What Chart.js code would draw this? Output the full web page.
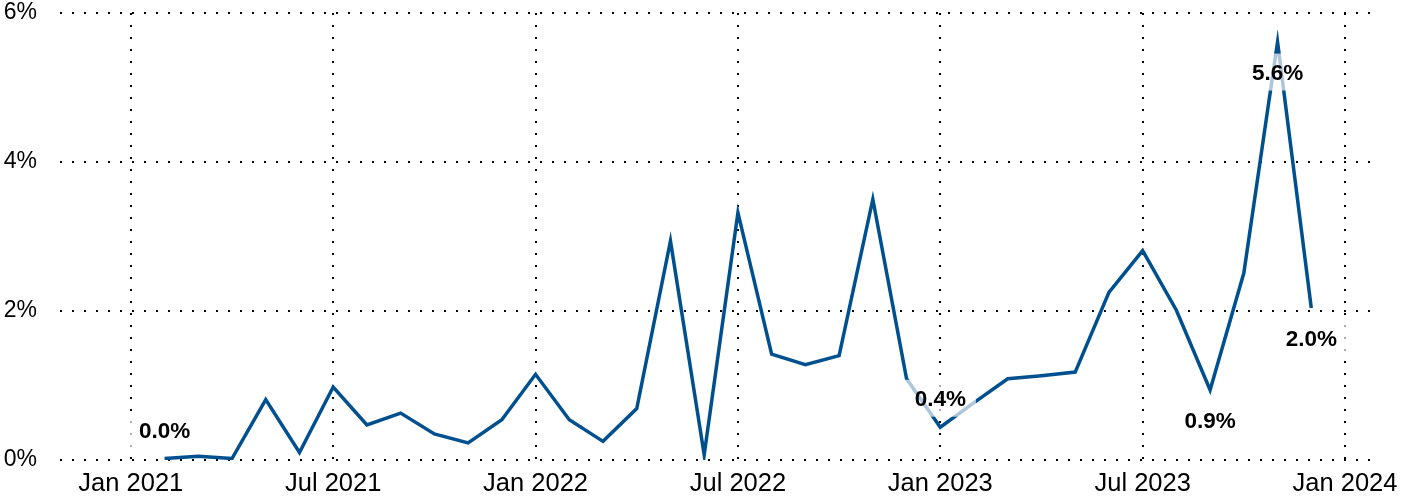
<!DOCTYPE html>
<html>
<head>
<meta charset="utf-8">
<script src="https://cdn.jsdelivr.net/npm/chart.js@4.4.1/dist/chart.umd.min.js"></script>
<style>
  html, body { margin: 0; padding: 0; background: #fff; }
  #wrap { width: 1401px; height: 500px; position: relative; }
</style>
</head>
<body>
<div id="wrap"><canvas id="c" width="1401" height="500"></canvas></div>
<script>
// ---- data ----
const categories = [
  'Feb 2021','Mar 2021','Apr 2021','May 2021','Jun 2021','Jul 2021','Aug 2021','Sep 2021','Oct 2021','Nov 2021','Dec 2021',
  'Jan 2022','Feb 2022','Mar 2022','Apr 2022','May 2022','Jun 2022','Jul 2022','Aug 2022','Sep 2022','Oct 2022','Nov 2022','Dec 2022',
  'Jan 2023','Feb 2023','Mar 2023','Apr 2023','May 2023','Jun 2023','Jul 2023','Aug 2023','Sep 2023','Oct 2023','Nov 2023','Dec 2023'
];
const values = [
  0.02, 0.05, 0.02, 0.81, 0.10, 0.98, 0.47, 0.63, 0.35, 0.23, 0.54,
  1.15, 0.54, 0.25, 0.69, 2.94, 0.07, 3.32, 1.42, 1.28, 1.40, 3.50, 1.09,
  0.44, 0.77, 1.09, 1.13, 1.18, 2.25, 2.81, 2.01, 0.94, 2.51, 5.61, 2.04
];
const xTickLabels = ['Jan 2021','Jul 2021','Jan 2022','Jul 2022','Jan 2023','Jul 2023','Jan 2024'];
const yTickValues = [0, 2, 4, 6];
const labelIndices = [0, 23, 31, 33, 34];
const labelSides = ['above', 'above', 'below', 'below', 'below'];

// ---- helpers ----
const MONTHS = ['Jan','Feb','Mar','Apr','May','Jun','Jul','Aug','Sep','Oct','Nov','Dec'];
function monthIndex(s) {            // months since Jan 2021
  const [m, y] = s.split(' ');
  return (parseInt(y, 10) - 2021) * 12 + MONTHS.indexOf(m);
}
const points = categories.map((c, i) => ({ x: monthIndex(c), y: values[i] }));
const xTickValues = xTickLabels.map(monthIndex);

const FONT = '"Liberation Sans", Arial, Helvetica, sans-serif';
const LINE = '#00508f';

const labelPlugin = {
  id: 'pointLabels',
  afterDatasetsDraw(chart) {
    const meta = chart.getDatasetMeta(0);
    const ctx = chart.ctx;
    ctx.save();
    ctx.font = 'bold 22.5px ' + FONT;
    ctx.textAlign = 'center';
    ctx.textBaseline = 'middle';
    labelIndices.forEach((idx, k) => {
      const el = meta.data[idx];
      const txt = values[idx].toFixed(1) + '%';
      const cy = labelSides[k] === 'above' ? el.y - 28 : el.y + 31;
      const w = ctx.measureText(txt).width + 20;
      const h = 37;
      ctx.fillStyle = 'rgba(255,255,255,0.68)';
      ctx.fillRect(el.x - w / 2, cy - h / 2 - 1, w, h);
      ctx.fillStyle = '#000';
      ctx.fillText(txt, el.x, cy + 1);
    });
    ctx.restore();
  }
};

new Chart(document.getElementById('c'), {
  type: 'line',
  data: {
    datasets: [{
      data: points,
      borderColor: LINE,
      borderWidth: 3.5,
      pointRadius: 0,
      pointHoverRadius: 0,
      tension: 0,
      fill: false
    }]
  },
  options: {
    responsive: false,
    animation: false,
    events: [],
    layout: { padding: { top: 13, right: 29, left: 0, bottom: 0 } },
    plugins: { legend: { display: false }, tooltip: { enabled: false } },
    scales: {
      x: {
        type: 'linear',
        min: -2.1,
        max: 36.8,
        afterBuildTicks(scale) { scale.ticks = xTickValues.map(v => ({ value: v })); },
        afterFit(scale) { scale.height = 40; scale.paddingLeft = 0; scale.paddingRight = 0; },
        ticks: {
          autoSkip: false,
          maxRotation: 0,
          padding: 9,
          color: '#000',
          font: { family: FONT, size: 25.5, lineHeight: 1.2 },
          callback(v) { const i = xTickValues.indexOf(v); return i >= 0 ? xTickLabels[i] : ''; }
        },
        grid: { color: '#000', lineWidth: 2, drawTicks: false },
        border: { display: false, dash: [2, 10] }
      },
      y: {
        min: 0,
        max: 6,
        afterBuildTicks(scale) { scale.ticks = yTickValues.map(v => ({ value: v })); },
        afterFit(scale) { scale.width = 60; scale.paddingTop = 0; scale.paddingBottom = 0; },
        ticks: {
          padding: 23,
          color: '#000',
          font: { family: FONT, size: 23, lineHeight: 1 },
          callback(v) { return v + '%'; }
        },
        grid: { color: '#000', lineWidth: 2, drawTicks: false },
        border: { display: false, dash: [2, 10] }
      }
    }
  },
  plugins: [labelPlugin]
});
</script>
</body>
</html>
